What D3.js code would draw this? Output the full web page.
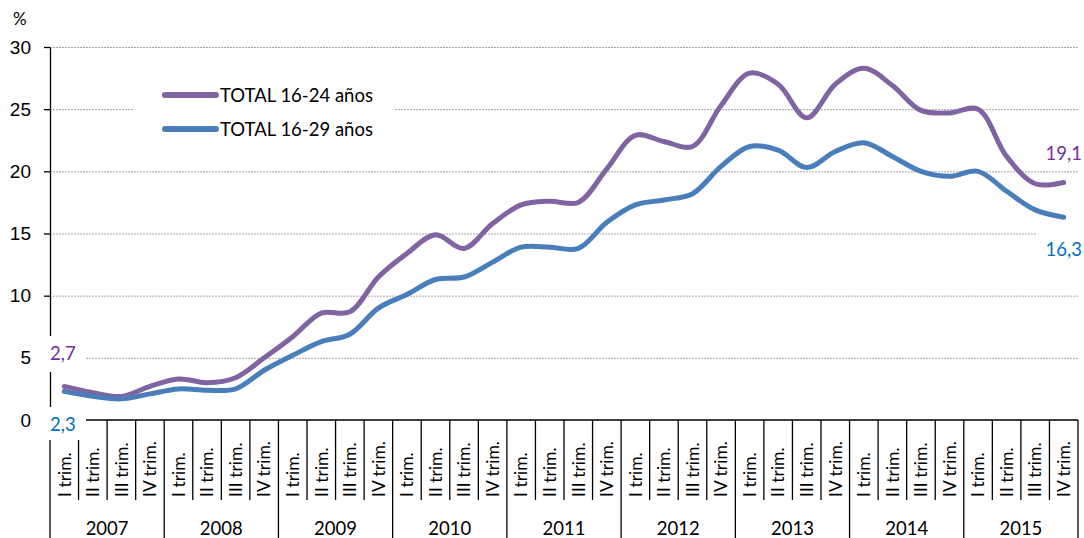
<!DOCTYPE html>
<html lang="es">
<head>
<meta charset="UTF-8">
<script src="https://cdn.jsdelivr.net/npm/d3@7"></script>
<style>
  body { margin: 0; background: #fff; }
  svg { display: block; font-family: Lato, 'Liberation Sans', sans-serif; }
  .grid line { stroke: #a6a6a6; stroke-dasharray: 2,1; }
  .grid path { stroke: none; }
  .axis text { fill: #000; }
</style>
</head>
<body>
<svg width="1084" height="538"></svg>
<script>
// Tasa (%) por trimestre, 2007-2015
const years = ["2007", "2008", "2009", "2010", "2011", "2012", "2013", "2014", "2015"];
const quarters = ["I trim.", "II trim.", "III trim.", "IV trim."];
const total1624 = [2.7, 2.2, 1.9, 2.7, 3.3, 3.0, 3.4, 5.0, 6.7, 8.6, 8.7, 11.5,
                   13.4, 14.9, 13.8, 15.8, 17.3, 17.6, 17.5, 20.2, 22.9, 22.4, 22.0, 25.3,
                   27.9, 27.0, 24.3, 27.0, 28.3, 26.9, 24.9, 24.7, 25.0, 21.2, 19.0, 19.1];
const total1629 = [2.3, 1.9, 1.7, 2.1, 2.5, 2.4, 2.5, 4.0, 5.2, 6.3, 6.9, 9.0,
                   10.1, 11.3, 11.5, 12.7, 13.9, 13.9, 13.8, 15.9, 17.3, 17.7, 18.2, 20.4,
                   22.0, 21.7, 20.3, 21.6, 22.3, 21.2, 20.0, 19.6, 20.0, 18.4, 16.9, 16.3];
const yTicks = [0, 5, 10, 15, 20, 25, 30];
const seriesNames = ["TOTAL 16-24 años", "TOTAL 16-29 años"];
const lineColors = ["#8064a2", "#4a7ebb"];
const labelColors = ["#7030a0", "#0070c0"];

const periods = [];
years.forEach(yr => quarters.forEach(q => periods.push(yr + " " + q)));

const svg = d3.select("svg");
const plotLeft = 50, plotRight = 1078, plotTop = 47, plotBottom = 420;

const x = d3.scaleBand().domain(periods).range([plotLeft, plotRight]);
const y = d3.scaleLinear().domain([0, 30]).range([plotBottom, plotTop]);
const cx = i => x(periods[i]) + x.bandwidth() / 2;

// gridlines
svg.append("g")
    .attr("class", "grid")
    .attr("transform", `translate(${plotLeft},0)`)
    .call(d3.axisLeft(y).tickValues(yTicks.slice(1)).tickSize(-(plotRight - plotLeft)).tickFormat(""));

// y axis
const yAxis = svg.append("g")
    .attr("class", "axis")
    .attr("transform", `translate(${plotLeft},0)`)
    .call(d3.axisLeft(y).tickValues(yTicks).tickSize(6).tickPadding(13).tickSizeOuter(0));
yAxis.selectAll("path, line").attr("stroke", "#000").attr("stroke-width", 1.3);
yAxis.selectAll("text").style("font-size", "19px");

svg.append("text").attr("x", 13).attr("y", 25).style("font-size", "17px").text("%");

// x axis line and separators
svg.append("line").attr("x1", plotLeft).attr("x2", plotRight).attr("y1", plotBottom).attr("y2", plotBottom)
    .attr("stroke", "#000").attr("stroke-width", 1.3);
d3.range(periods.length + 1).forEach(i => {
    const xx = i < periods.length ? x(periods[i]) : plotRight;
    const isYear = i % 4 === 0;
    svg.append("line")
        .attr("x1", xx).attr("x2", xx)
        .attr("y1", plotBottom).attr("y2", isYear ? 538 : 500)
        .attr("stroke", "#000").attr("stroke-width", 1.3);
});

// quarter labels
svg.append("g").selectAll("text")
    .data(periods)
    .join("text")
    .attr("transform", (d, i) => `translate(${cx(i)},497) rotate(-90)`)
    .attr("dy", "0.36em")
    .style("font-size", "17.5px")
    .text((d, i) => quarters[i % 4]);

// year labels
svg.append("g").selectAll("text")
    .data(years)
    .join("text")
    .attr("x", (d, i) => (x(periods[i * 4]) + x(periods[i * 4 + 3]) + x.bandwidth()) / 2)
    .attr("y", 535)
    .attr("text-anchor", "middle")
    .style("font-size", "18.5px")
    .text(d => d);

// white boxes behind legend and value labels
svg.append("rect").attr("x", 133).attr("y", 74).attr("width", 262).attr("height", 74).attr("fill", "#fff");
[[40, 336, 46, 36], [44, 407, 42, 33], [1040, 137, 44, 32], [1037, 229, 47, 36]].forEach(b => {
    svg.append("rect").attr("x", b[0]).attr("y", b[1]).attr("width", b[2]).attr("height", b[3]).attr("fill", "#fff");
});

// lines
const line = d3.line()
    .x((d, i) => cx(i))
    .y(d => y(d))
    .curve(d3.curveCatmullRom.alpha(0.5));

[total1624, total1629].forEach((s, k) => {
    svg.append("path")
        .datum(s)
        .attr("d", line)
        .attr("fill", "none")
        .attr("stroke", lineColors[k])
        .attr("stroke-width", 5)
        .attr("stroke-linecap", "round")
        .attr("stroke-linejoin", "round");
});

// legend
seriesNames.forEach((name, k) => {
    const ly = 95 + k * 34;
    svg.append("line").attr("x1", 165).attr("x2", 216).attr("y1", ly).attr("y2", ly)
        .attr("stroke", lineColors[k]).attr("stroke-width", 6).attr("stroke-linecap", "round");
    svg.append("text").attr("x", 220).attr("y", ly).attr("dy", "0.36em")
        .style("font-size", "18.5px").text(name);
});

// value labels
const fmt = v => v.toFixed(1).replace(".", ",");
const n = periods.length - 1;
svg.append("text").attr("x", 50).attr("y", 353).attr("dy", "0.36em")
    .attr("fill", labelColors[0]).style("font-size", "18.5px").text(fmt(total1624[0]));
svg.append("text").attr("x", 50).attr("y", 424).attr("dy", "0.36em")
    .attr("fill", labelColors[1]).style("font-size", "18.5px").text(fmt(total1629[0]));
svg.append("text").attr("x", 1082).attr("y", 153).attr("dy", "0.36em").attr("text-anchor", "end")
    .attr("fill", labelColors[0]).style("font-size", "18.5px").text(fmt(total1624[n]));
svg.append("text").attr("x", 1082).attr("y", 249).attr("dy", "0.36em").attr("text-anchor", "end")
    .attr("fill", labelColors[1]).style("font-size", "18.5px").text(fmt(total1629[n]));
</script>
</body>
</html>
